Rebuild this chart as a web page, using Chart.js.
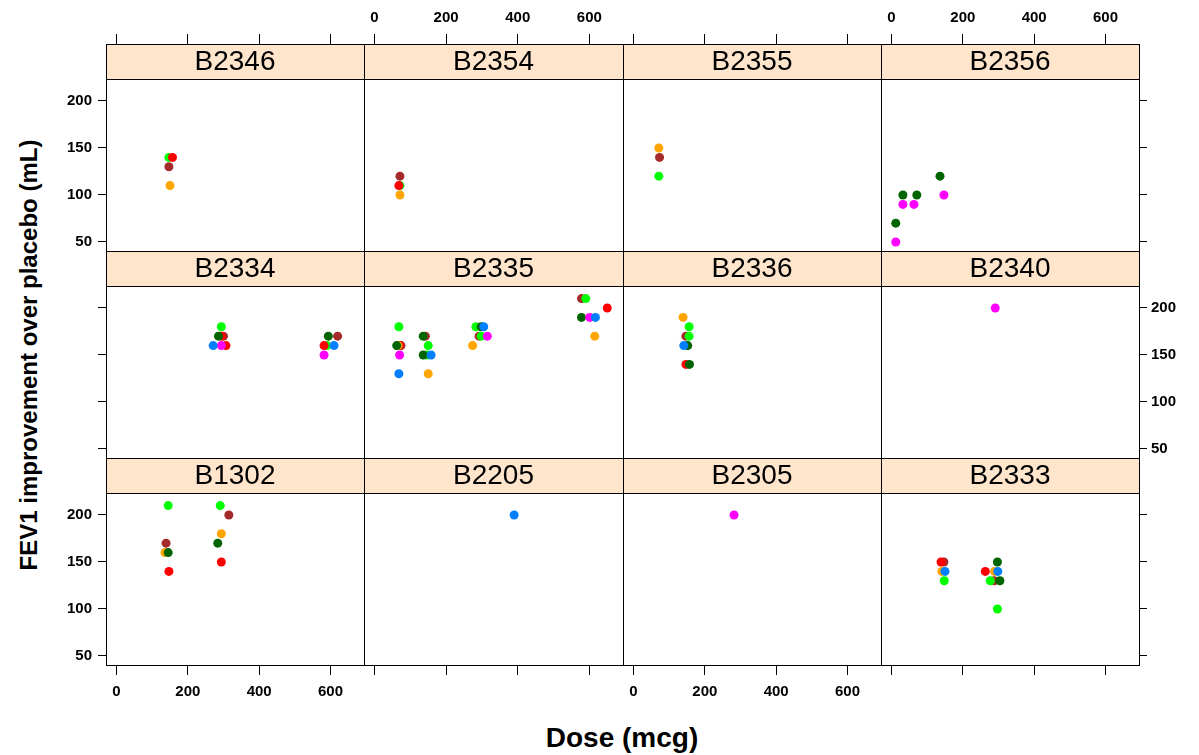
<!DOCTYPE html>
<html><head><meta charset="utf-8">
<script src="https://cdn.jsdelivr.net/npm/chart.js@4/dist/chart.umd.min.js"></script>
<style>
html,body{margin:0;padding:0;background:#fff;}
#wrap{position:relative;width:1199px;height:755px;overflow:hidden;background:#fff;}
canvas{position:absolute;left:0;top:0;pointer-events:none;}
.t{position:absolute;font-family:"Liberation Sans",Arial,sans-serif;font-weight:bold;color:#000;white-space:nowrap;line-height:1;}
#xt{left:622px;top:738px;font-size:28px;transform:translate(-50%,-50%);}
#yt{left:29px;top:355px;font-size:24px;transform:translate(-50%,-50%) rotate(-90deg);}
</style></head><body>
<div id="wrap">
<div class="t" id="xt">Dose (mcg)</div>
<div class="t" id="yt">FEV1 improvement over placebo (mL)</div>
</div>
<script>
// panels, top row first (lattice layout)
const panelRows = [
  ["B2346","B2354","B2355","B2356"],
  ["B2334","B2335","B2336","B2340"],
  ["B1302","B2205","B2305","B2333"]
];
const doseTicks = [0,200,400,600];
const fevTicks = [50,100,150,200];

// series: [panel, dose (mcg), FEV1 improvement (mL)]
const blue = [
  ["B2334",271,160],["B2334",610,160],
  ["B2335",68,130],["B2335",158,150],["B2335",305,180],["B2335",617,190],
  ["B2336",141,160],
  ["B2205",390,200],
  ["B2333",150,140],["B2333",298,140]
];
const magenta = [
  ["B2356",12,50],["B2356",32,90],["B2356",63,90],["B2356",147,100],
  ["B2334",294,160],["B2334",582,150],
  ["B2335",70,150],["B2335",315,170],["B2335",601,190],
  ["B2340",291,200],
  ["B2305",282,200]
];
const darkgreen = [
  ["B2356",12,70],["B2356",32,100],["B2356",71,100],["B2356",136,120],
  ["B2334",286,170],["B2334",594,170],
  ["B2335",62,160],["B2335",136,170],["B2335",136,150],["B2335",298,180],["B2335",578,190],
  ["B2336",152,160],["B2336",157,140],
  ["B1302",284,170],["B1302",145,160],
  ["B2333",297,150],["B2333",304,130]
];
const orange = [
  ["B2346",150,110],["B2354",71,100],["B2355",71,150],
  ["B2335",66,160],["B2335",150,130],["B2335",274,160],["B2335",615,170],
  ["B2336",139,190],
  ["B1302",294,180],["B1302",136,160],
  ["B2333",141,140],["B2333",289,140]
];
const red = [
  ["B2346",157,140],["B2354",68,110],
  ["B2334",294,170],["B2334",307,160],["B2334",582,160],
  ["B2335",70,160],["B2335",650,200],
  ["B2336",147,140],
  ["B1302",294,150],["B1302",147,140],
  ["B2333",139,150],["B2333",263,140]
];
const green = [
  ["B2346",147,140],["B2354",71,110],["B2355",71,120],
  ["B2334",294,180],["B2334",590,160],
  ["B2335",68,180],["B2335",150,160],["B2335",147,150],["B2335",283,180],["B2335",298,170],["B2335",590,210],
  ["B2336",156,180],["B2336",156,170],
  ["B1302",145,210],["B1302",291,210],
  ["B2333",148,130],["B2333",277,130],["B2333",297,100]
];
const brown = [
  ["B2346",147,130],["B2354",71,120],["B2355",73,140],
  ["B2334",300,170],["B2334",620,170],
  ["B2335",74,160],["B2335",142,170],["B2335",292,170],["B2335",578,210],
  ["B2336",147,170],
  ["B1302",315,200],["B1302",139,170],
  ["B2333",147,150],["B2333",288,130]
];

const seriesList = [blue, magenta, darkgreen, orange, red, green, brown];
const seriesColors = ["#0080FF","#FF00FF","#006400","#FFA500","#FF0000","#00FF00","#A52A2A"];

const W = 1199, H = 755;
const colL = [106,364,623,881,1139];
const rowStrip = [44,251,458];
const stripH = 35, panelH = 172;
const XMIN = -29.4, XMAX = 694, YMIN = 40.4, YMAX = 223.4;
const LW = 44, RW = 50, TW = 40, BW = 46;
const FONT = "'Liberation Sans', Arial, Helvetica, sans-serif";
const tickFont = {family: FONT, size: 15, weight: 'bold'};
const wrap = document.getElementById('wrap');

function axisBase(tickVals, min, max, show, labels, pos, size, tl, pad) {
  return {
    type: 'linear', position: pos, min: min, max: max, display: show,
    afterBuildTicks: s => { s.ticks = tickVals.map(v => ({value: v})); },
    ticks: {display: true, color: '#000', font: tickFont, padding: pad, maxRotation: 0, minRotation: 0,
            autoSkip: false, callback: v => labels ? String(v) : ''},
    grid: {display: true, drawOnChartArea: false, drawTicks: true, tickLength: tl, color: '#000', lineWidth: 1},
    border: {display: false},
    afterFit: s => {
      if (!show) return;
      if (pos === 'top' || pos === 'bottom') s.height = size; else s.width = size;
    }
  };
}

function panelPlugin(name) {
  return {
    id: 'panel_' + name,
    afterDraw(chart) {
      const a = chart.chartArea, ctx = chart.ctx, st = chart.scales.strip;
      ctx.save();
      ctx.fillStyle = '#FFE5CC';
      ctx.fillRect(a.left, st.top, a.right - a.left, st.bottom - st.top);
      ctx.strokeStyle = '#000';
      ctx.lineWidth = 1;
      ctx.strokeRect(Math.round(a.left) + 0.5, Math.round(st.top) + 0.5, Math.round(a.right - a.left), Math.round(st.bottom - st.top));
      ctx.strokeRect(Math.round(a.left) + 0.5, Math.round(a.top) + 0.5, Math.round(a.right - a.left), Math.round(a.bottom - a.top));
      ctx.fillStyle = '#000';
      ctx.font = '28px ' + FONT;
      ctx.textAlign = 'center';
      ctx.textBaseline = 'middle';
      ctx.fillText(name, (a.left + a.right) / 2, (st.top + st.bottom) / 2 + 1);
      ctx.restore();
    }
  };
}

panelRows.forEach((row, r) => row.forEach((name, c) => {
  const cv = document.createElement('canvas');
  cv.width = W; cv.height = H;
  cv.style.width = W + 'px'; cv.style.height = H + 'px';
  wrap.appendChild(cv);
  const left = colL[c], right = colL[c + 1];
  const sTop = rowStrip[r], pTop = sTop + stripH, pBot = pTop + panelH;
  const datasets = seriesList.map((s, i) => ({
    data: s.filter(p => p[0] === name).map(p => ({x: p[1], y: p[2]})),
    backgroundColor: seriesColors[i], borderColor: seriesColors[i], borderWidth: 0,
    pointRadius: 4.5, pointHoverRadius: 4.5, pointStyle: 'circle',
    xAxisID: 'x', yAxisID: 'y'
  }));
  new Chart(cv, {
    type: 'scatter',
    data: {datasets},
    options: {
      responsive: false, animation: false, devicePixelRatio: 1, events: [],
      plugins: {legend: {display: false}, tooltip: {enabled: false}, title: {display: false}},
      layout: {padding: {
        left: left - (c === 0 ? LW : 0),
        right: W - right - (c === 3 ? RW : 0),
        top: sTop - (r === 0 ? TW : 0),
        bottom: H - pBot - (r === 2 ? BW : 0)
      }},
      scales: {
        x: axisBase(doseTicks, XMIN, XMAX, r === 2, c === 0 || c === 2, 'bottom', BW, 10, 8),
        y: axisBase(fevTicks, YMIN, YMAX, c === 0, r !== 1, 'left', LW, 8, 6),
        xTop: Object.assign(axisBase(doseTicks, XMIN, XMAX, r === 0, c === 1 || c === 3, 'top', TW, 10, 7), {weight: 1}),
        yR: axisBase(fevTicks, YMIN, YMAX, c === 3, r === 1, 'right', RW, 8, 4),
        strip: {type: 'category', labels: [name], position: 'top', weight: 0, display: true, offset: true,
                ticks: {display: false}, grid: {display: false, drawTicks: false}, border: {display: false},
                afterFit: s => { s.height = stripH; }}
      }
    },
    plugins: [panelPlugin(name)]
  });
}));
</script>
</body></html>
